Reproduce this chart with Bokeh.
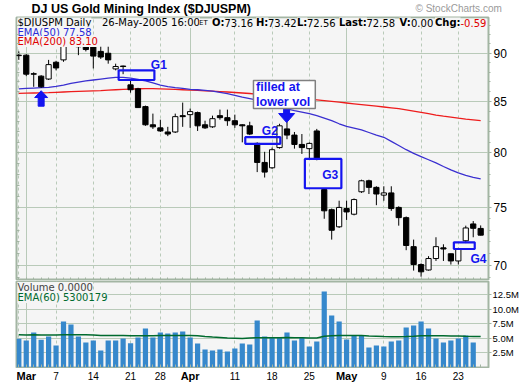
import math
import pandas as pd
from bokeh.plotting import figure
from bokeh.models import (Range1d, FixedTicker, LogAxis, Label, ColumnDataSource, Grid)
from bokeh.layouts import column
from bokeh.embed import file_html
from bokeh.resources import INLINE
from bokeh.core.properties import value

# ---------------- data ----------------
dates = [d for d in pd.bdate_range("2005-02-28", "2005-05-26") if d != pd.Timestamp("2005-03-25")]

opens = [89.75, 89.8, 87.85, 87.6, 87.3, 89.05, 89.3, 91.2, 91.6, 91.0,
         90.7, 90.2, 90.0, 88.35, 88.65, 86.7, 86.3, 84.5, 82.7, 82.4,
         82.0, 82.0, 83.6, 83.7, 83.9, 82.7, 82.5, 83.6, 83.4, 83.1,
         82.7, 82.6, 80.9, 79.1, 78.6, 80.5, 82.3, 81.7, 80.8, 80.4,
         82.1, 76.6, 74.8, 73.3, 74.9, 74.4, 76.4, 77.4, 76.8, 76.1,
         76.3, 75.0, 74.1, 71.6, 70.1, 69.65, 70.6, 71.5, 71.0, 70.4,
         72.1, 73.55, 73.16]
highs = [90.2, 89.9, 88.0, 87.7, 89.3, 89.2, 91.6, 92.3, 92.0, 91.4,
         91.0, 90.7, 90.7, 88.9, 88.7, 87.3, 86.4, 84.6, 83.8, 83.2,
         82.5, 83.8, 84.9, 84.3, 84.0, 83.1, 83.6, 84.2, 84.2, 83.7,
         82.75, 83.0, 81.0, 80.1, 80.5, 82.8, 83.0, 82.0, 81.8, 81.0,
         82.3, 76.7, 74.9, 75.6, 75.6, 75.8, 77.5, 77.5, 76.9, 76.9,
         76.9, 75.1, 74.2, 72.2, 70.2, 70.8, 72.4, 71.8, 71.0, 71.5,
         73.4, 73.8, 73.42]
lows = [89.3, 87.6, 86.5, 86.4, 87.2, 88.2, 89.1, 90.9, 89.8, 90.2,
        88.4, 89.4, 88.9, 88.2, 87.8, 85.9, 84.4, 82.6, 82.3, 82.0,
        81.6, 81.9, 82.5, 82.4, 82.1, 82.3, 82.4, 83.2, 82.6, 82.4,
        81.0, 81.7, 78.2, 77.7, 78.5, 80.4, 81.3, 80.4, 79.9, 79.4,
        79.3, 74.0, 72.2, 73.2, 73.9, 74.3, 76.3, 76.2, 75.2, 75.6,
        74.7, 73.4, 71.3, 69.6, 69.1, 69.6, 70.4, 70.4, 70.1, 70.1,
        71.9, 72.4, 72.56]
closes = [89.8, 87.8, 87.8, 86.5, 88.8, 88.45, 91.2, 91.8, 90.7, 90.4,
          89.7, 89.6, 89.3, 88.6, 88.6, 86.2, 84.4, 82.7, 82.5, 82.1,
          81.8, 83.5, 83.5, 84.0, 82.6, 82.4, 83.3, 83.4, 83.1, 82.7,
          82.6, 81.8, 79.1, 78.2, 80.3, 82.6, 81.7, 80.8, 80.5, 80.9,
          79.4, 74.7, 73.0, 75.0, 74.6, 75.7, 77.4, 76.8, 76.2, 76.3,
          74.9, 74.1, 71.7, 70.1, 69.5, 70.6, 71.6, 71.4, 70.4, 71.4,
          73.2, 73.17, 72.58]
volumes_m = [4.91, 4.62, 6.00, 4.74, 5.31, 3.76, 7.90, 7.38, 5.31, 4.28,
             4.62, 2.90, 4.62, 4.62, 4.97, 4.16, 5.14, 6.69, 5.14, 6.00,
             5.83, 6.00, 6.17, 5.14, 4.10, 3.07, 2.90, 3.07, 2.72, 3.24,
             4.10, 3.93, 8.07, 5.31, 5.14, 5.14, 6.00, 4.62, 5.14, 3.59,
             4.45, 13.07, 8.93, 7.90, 4.79, 5.48, 5.48, 3.41, 3.76, 3.59,
             4.45, 4.62, 6.86, 7.21, 7.90, 6.69, 4.97, 4.28, 4.62, 4.97,
             5.48, 4.28, 0.0]
ema50 = [86.29, 86.33, 86.37, 86.41, 86.45, 86.55, 86.68, 86.85, 86.99, 87.10,
         87.20, 87.30, 87.40, 87.48, 87.47, 87.40, 87.25, 87.10, 86.90, 86.68,
         86.52, 86.42, 86.33, 86.24, 86.20, 86.14, 86.05, 85.93, 85.80, 85.63,
         85.45, 85.30, 85.15, 84.95, 84.72, 84.50, 84.28, 84.10, 83.95, 83.80,
         83.60, 83.35, 83.10, 82.80, 82.55, 82.38, 82.20, 81.95, 81.70, 81.49,
         81.10, 80.70, 80.30, 79.95, 79.65, 79.35, 79.05, 78.72, 78.40, 78.12,
         77.90, 77.72, 77.58]
ema200 = [85.83, 85.85, 85.87, 85.89, 85.91, 85.94, 85.97, 86.00, 86.03, 86.06,
          86.09, 86.12, 86.16, 86.20, 86.24, 86.27, 86.30, 86.32, 86.31, 86.29,
          86.26, 86.23, 86.20, 86.16, 86.13, 86.09, 86.05, 86.01, 85.97, 85.92,
          85.87, 85.82, 85.75, 85.68, 85.61, 85.53, 85.45, 85.38, 85.31, 85.24,
          85.17, 85.10, 85.02, 84.94, 84.86, 84.78, 84.70, 84.62, 84.54, 84.46,
          84.38, 84.29, 84.18, 84.05, 83.92, 83.79, 83.66, 83.55, 83.45, 83.35,
          83.26, 83.18, 83.10]
vol_ema60 = [5.60, 5.59, 5.60, 5.58, 5.58, 5.55, 5.60, 5.62, 5.62, 5.60,
             5.58, 5.50, 5.50, 5.48, 5.47, 5.46, 5.45, 5.46, 5.46, 5.47,
             5.47, 5.48, 5.48, 5.47, 5.45, 5.30, 5.22, 5.15, 5.06, 5.02,
             4.98, 5.05, 5.10, 5.10, 5.10, 5.10, 5.12, 5.10, 5.10, 5.06,
             5.05, 5.35, 5.45, 5.50, 5.48, 5.48, 5.47, 5.40, 5.35, 5.30,
             5.28, 5.26, 5.30, 5.35, 5.42, 5.45, 5.45, 5.43, 5.40, 5.38,
             5.35, 5.33, 5.30]

price_ticks = [70, 75, 80, 85, 90]
price_minor_ticks = list(range(68, 96))
volume_ticks = [2.5, 5.0, 7.5, 10.0, 12.5]
volume_tick_labels = ["2.5M", "5.0M", "7.5M", "10.0M", "12.5M"]
month_tick_dates = ["2005-03-01", "2005-04-01", "2005-05-02"]
month_tick_labels = ["Mar", "Apr", "May"]
day_tick_dates = ["2005-03-07", "2005-03-14", "2005-03-21", "2005-03-28", "2005-04-11",
                  "2005-04-18", "2005-04-25", "2005-05-09", "2005-05-16", "2005-05-23"]
day_tick_labels = ["7", "14", "21", "28", "11", "18", "25", "9", "16", "23"]
week_grid_dates = ["2005-02-28"] + day_tick_dates

# gap annotations (index span, price span)
gap_names = ["G1", "G2", "G3", "G4"]
gap_left = [13.4, 30.4, 38.4, 58.4]
gap_right = [18.2, 35.1, 43.3, 61.2]
gap_top = [88.2, 81.5, 79.43, 71.97]
gap_bottom = [87.2, 80.86, 76.72, 71.4]
gap_label_x = [18.8, 33.7, 41.8, 61.7]
gap_label_y = [88.76, 82.06, 77.95, 70.6]

# ---------------- setup ----------------
n = len(dates)
idx = list(range(n))
pos = {d.strftime("%Y-%m-%d"): i for i, d in enumerate(dates)}

X0, X1 = -0.31, 63.05
PY0, PY1 = 68.79, 93.89
VY0, VY1 = -0.03, 14.79
FRAME_W = 472
FRAME_H = 263

BG = "#f5f5f5"
GRID = "#b9cab9"
EDGE = "#a3b5a3"
BLUE = "#1414f0"
FONT = "Liberation Sans"
VFONT = "DejaVu Sans"


def xi(px):
    return X0 + (px - 16) * (X1 - X0) / FRAME_W


def py(dy):
    l0, l1 = math.log(PY0), math.log(PY1)
    return math.exp(l1 - dy / FRAME_H * (l1 - l0))


def style_fig(f):
    f.background_fill_color = BG
    f.border_fill_color = "white"
    f.outline_line_color = EDGE
    f.outline_line_width = 2
    f.xgrid.ticker = FixedTicker(ticks=[pos[d] for d in week_grid_dates])
    f.xgrid.grid_line_color = GRID
    f.xgrid.grid_line_dash = "3 3"
    f.ygrid.grid_line_color = GRID
    mg = Grid(dimension=0, ticker=FixedTicker(ticks=[pos[d] for d in month_tick_dates]),
              grid_line_color=GRID, grid_line_width=1)
    f.add_layout(mg)
    xa = f.xaxis[0]
    xa.ticker = FixedTicker(ticks=[], minor_ticks=idx)
    xa.major_label_standoff = 0
    xa.major_tick_in = 0
    xa.major_tick_out = 0
    xa.minor_tick_in = 3
    xa.minor_tick_out = 0
    xa.minor_tick_line_color = EDGE
    xa.axis_line_color = None


def blank_fig(h, x_range, y_range, left, right):
    f = figure(frame_width=520 - left - right, frame_height=h, x_range=x_range, y_range=y_range,
               x_axis_location=None, y_axis_location=None, output_backend="svg",
               toolbar_location=None, min_border_left=left, min_border_right=right,
               min_border_top=0, min_border_bottom=0)
    f.grid.visible = False
    f.outline_line_color = None
    f.background_fill_color = "white"
    f.border_fill_color = "white"
    return f


# ---------------- header strip ----------------
hd = blank_fig(16, Range1d(0, 520), Range1d(0, 16), 0, 0)
hd.text(x=[15], y=[7.8], text=["DJ US Gold Mining Index ($DJUSPM)"], text_font=value(FONT),
        text_font_style="bold", text_font_size=value("12.5px"), text_baseline="middle",
        text_align="left", text_color="black")
hd.text(x=[399], y=[7.8], text=["\u00a9 StockCharts.com"], text_font=value(FONT),
        text_font_size=value("10px"), text_baseline="middle", text_align="left",
        text_color="#9a9a9a")

# ---------------- price panel ----------------
p = figure(frame_width=FRAME_W, frame_height=FRAME_H, x_range=Range1d(X0, X1),
           y_range=Range1d(PY0, PY1), y_axis_type="log", y_axis_location="right",
           output_backend="svg", toolbar_location=None, min_border_left=16,
           min_border_right=32, min_border_top=1, min_border_bottom=0)
style_fig(p)
p.ygrid.ticker = FixedTicker(ticks=price_ticks)

ya = p.yaxis[0]
ya.ticker = FixedTicker(ticks=price_ticks, minor_ticks=price_minor_ticks)
ya.major_label_overrides = {t: str(t) for t in price_ticks}
ya.major_label_text_font = FONT
ya.major_label_text_font_size = "12px"
ya.major_label_text_color = "black"
ya.major_label_standoff = 2
ya.major_tick_out = 3
ya.major_tick_in = 0
ya.minor_tick_out = 2
ya.minor_tick_in = 0
ya.major_tick_line_color = EDGE
ya.minor_tick_line_color = EDGE
ya.axis_line_color = None

la = LogAxis(ticker=FixedTicker(ticks=[], minor_ticks=price_minor_ticks),
             major_label_standoff=0, major_tick_in=0, major_tick_out=0,
             minor_tick_in=3, minor_tick_out=0,
             minor_tick_line_color=EDGE, axis_line_color=None)
p.add_layout(la, "left")

# moving averages
p.line(idx, ema200, color="#ee1c1c", line_width=1.3)
p.line(idx, ema50, color="#3a2fd0", line_width=1.3)

# candles
src = ColumnDataSource(dict(
    x=idx, high=highs, low=lows,
    top=[max(o, c) for o, c in zip(opens, closes)],
    bot=[min(o, c) for o, c in zip(opens, closes)],
    fill=["white" if c > o else "black" for o, c in zip(opens, closes)],
))
p.segment(x0="x", y0="low", x1="x", y1="high", source=src, color="black", line_width=1)
p.vbar(x="x", width=0.7, top="top", bottom="bot", fill_color="fill", line_color="black",
       line_width=1, source=src)

# gap boxes and labels
p.quad(left=gap_left, right=gap_right, top=gap_top, bottom=gap_bottom,
       fill_alpha=0, line_color=BLUE, line_width=2.2)
p.text(x=gap_label_x, y=gap_label_y, text=gap_names, text_font=value(FONT),
       text_font_style="bold", text_font_size="12px", text_color=BLUE,
       text_align="center", text_baseline="middle")

# arrows
p.vbar(x=[3.0, 35.95], width=0.8, top=[85.41, 84.31], bottom=[84.54, 83.81], color=BLUE)
p.patches(xs=[[2.13, 3.87, 3.0], [34.88, 37.02, 35.95]],
          ys=[[85.41, 85.41, 86.1], [83.81, 83.81, 82.92]], color=BLUE)

# callout
p.quad(left=[31.5], right=[39.8], top=[87.15], bottom=[84.30], fill_color="white",
       line_color="#808080", line_width=1.5)
p.text(x=[31.85, 31.85], y=[86.46, 85.01], text=["filled at", "lower vol"],
       text_font=value(FONT), text_font_style="bold", text_font_size="12.5px",
       text_color=BLUE, text_align="left", text_baseline="middle")

# header row inside the price panel (text glyphs with panel-coloured backgrounds)
hdr = [
    (17, 5, "$DJUSPM Daily", "black", "10px", "normal"),
    (101.5, 5, "26-May-2005 16:00", "black", "10px", "normal"),
    (198.5, 5.5, "ET", "black", "7px", "normal"),
    (211.5, 5, "O:", "black", "10px", "bold"),
    (224, 5, "73.16", "black", "10px", "normal"),
    (255.5, 5, "H:", "black", "10px", "bold"),
    (267.5, 5, "73.42", "black", "10px", "normal"),
    (296.5, 5, "L:", "black", "10px", "bold"),
    (306.5, 5, "72.56", "black", "10px", "normal"),
    (338.5, 5, "Last:", "black", "10px", "bold"),
    (366, 5, "72.58", "black", "10px", "normal"),
    (399, 5, "V:", "black", "10px", "bold"),
    (410.5, 5, "0.00", "black", "10px", "normal"),
    (434.5, 5, "Chg:", "black", "10px", "bold"),
    (460, 5, "-0.59", "#e00000", "10px", "normal"),
    (17, 14.5, "EMA(50) 77.58", "#2a2ad8", "10px", "normal"),
    (17, 24, "EMA(200) 83.10", "#e00000", "10px", "normal"),
]
for px, dy, t, c, s, st in hdr:
    p.text(x=[xi(px)], y=[py(dy)], text=[t], text_font=value(VFONT), text_font_size=s,
           text_font_style=st, text_color=c, text_baseline="middle", text_align="left",
           background_fill_color=BG)

# ---------------- volume panel ----------------
v = figure(frame_width=FRAME_W, frame_height=86, x_range=p.x_range, y_range=Range1d(VY0, VY1),
           y_axis_location="right", output_backend="svg", toolbar_location=None,
           min_border_left=16, min_border_right=32, min_border_top=1, min_border_bottom=1)
style_fig(v)
v.ygrid.ticker = FixedTicker(ticks=volume_ticks)
vy = v.yaxis[0]
vy.ticker = FixedTicker(ticks=volume_ticks)
vy.major_label_overrides = {t: s for t, s in zip(volume_ticks, volume_tick_labels)}
vy.major_label_text_font = FONT
vy.major_label_text_font_size = "9.5px"
vy.major_label_text_color = "black"
vy.major_label_standoff = 1
vy.major_tick_out = 3
vy.major_tick_in = 0
vy.major_tick_line_color = EDGE
vy.minor_tick_line_color = None
vy.axis_line_color = None

v.vbar(x=idx, width=0.7, top=volumes_m, bottom=0, fill_color="#3688cc", line_color=None)
v.line(idx, vol_ema60, color="#006a2e", line_width=1.5)

v.add_layout(Label(x=X0, x_offset=1, y=VY1, y_offset=-6, text="Volume 0.0000",
                   text_font=VFONT, text_font_size="10px", text_baseline="middle",
                   background_fill_color=BG))
v.add_layout(Label(x=X0, x_offset=1, y=VY1, y_offset=-16, text="EMA(60) 5300179",
                   text_font=VFONT, text_font_size="10px", text_color="#006a2e",
                   text_baseline="middle", background_fill_color=BG))

# ---------------- date label strip ----------------
xl = blank_fig(16, p.x_range, Range1d(0, 16), 16, 32)
xl.text(x=[pos[d] for d in day_tick_dates], y=[8.5] * len(day_tick_dates), text=day_tick_labels,
        text_font=value(FONT), text_font_size="10px", text_align="center",
        text_baseline="middle", text_color="black")
xl.text(x=[pos[d] for d in month_tick_dates], y=[8.5] * len(month_tick_dates), text=month_tick_labels,
        text_font=value(FONT), text_font_size="11px", text_font_style="bold",
        text_align="center", text_baseline="middle", text_color="black")

layout = column(hd, p, v, xl, spacing=0)
open("out.html", "w").write(file_html(layout, INLINE))
